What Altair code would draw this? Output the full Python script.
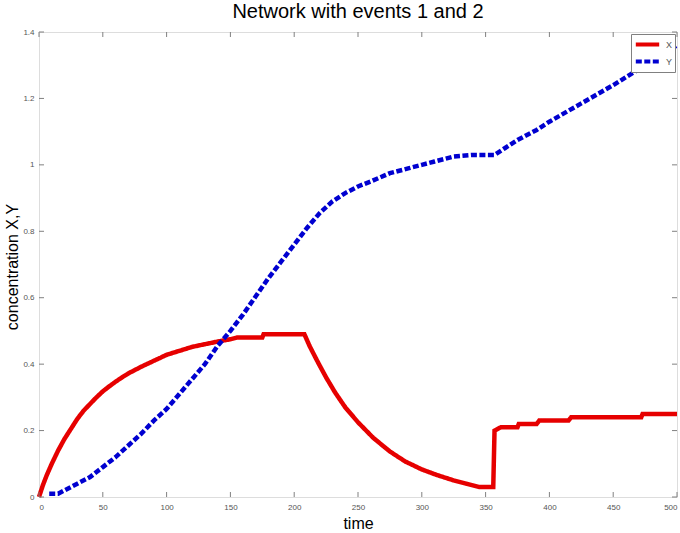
import altair as alt
import pandas as pd

# ---- data ----
t_x = [0, 3, 6, 10, 15, 20, 25, 30, 35, 40, 45, 50, 55, 60, 65, 70, 80, 90, 100, 110,
       120, 130, 140, 150, 155, 175, 176, 208, 212, 218, 225, 232, 240, 250, 262,
       275, 287, 300, 312, 325, 335, 345, 356, 357, 362, 375, 376, 390, 392, 415,
       417, 472, 473, 500]
x_vals = [0, 0.035, 0.065, 0.1, 0.14, 0.175, 0.205, 0.235, 0.26, 0.28, 0.3, 0.318,
          0.333, 0.347, 0.36, 0.372, 0.392, 0.41, 0.428, 0.44, 0.452, 0.46, 0.468,
          0.475, 0.48, 0.48, 0.49, 0.49, 0.455, 0.41, 0.36, 0.315, 0.27, 0.225, 0.178,
          0.137, 0.107, 0.083, 0.066, 0.05, 0.04, 0.03, 0.03, 0.2, 0.21, 0.21, 0.22,
          0.22, 0.23, 0.23, 0.24, 0.24, 0.25, 0.25]

t_y = [8, 15, 20, 30, 40, 50, 60, 70, 80, 90, 100, 110, 120, 130, 140, 150, 160, 170,
       180, 190, 200, 210, 220, 230, 240, 250, 260, 275, 290, 300, 310, 325, 340, 357,
       365, 375, 390, 400, 425, 450, 475, 500]
y_vals = [0.01, 0.01, 0.02, 0.04, 0.06, 0.09, 0.12, 0.155, 0.19, 0.23, 0.265, 0.31,
          0.355, 0.4, 0.455, 0.5, 0.55, 0.605, 0.66, 0.71, 0.76, 0.81, 0.855, 0.89,
          0.915, 0.935, 0.95, 0.975, 0.99, 1.0, 1.01, 1.025, 1.03, 1.03, 1.05, 1.075,
          1.105, 1.13, 1.185, 1.24, 1.3, 1.36]

series_names = ["X", "Y"]
x_ticks = [0, 50, 100, 150, 200, 250, 300, 350, 400, 450, 500]
y_ticks = [0, 0.2, 0.4, 0.6, 0.8, 1.0, 1.2, 1.4]

df = pd.concat([
    pd.DataFrame({"time": t_x, "value": x_vals, "series": series_names[0]}),
    pd.DataFrame({"time": t_y, "value": y_vals, "series": series_names[1]}),
], ignore_index=True)

W, H = 638, 465
FONT = "Liberation Sans"
GRAY = "#808080"
LBL = "#555555"

xs = alt.Scale(domain=[0, 500], nice=False, zero=False)
ys = alt.Scale(domain=[0, 1.4], nice=False, zero=False)

leg = alt.Legend(
    title=None, orient="top-right", offset=2, fillColor="white", strokeColor=GRAY,
    padding=2, labelFontSize=9, labelColor=LBL, labelFont=FONT,
    symbolType="M-1.8,0H1.8", symbolSize=169, symbolStrokeWidth=4,
    symbolFillColor="transparent", rowPadding=0, labelOffset=10, symbolOffset=6,
)

lines = alt.Chart(df).mark_line(strokeWidth=4.5).encode(
    x=alt.X("time:Q", scale=xs, axis=alt.Axis(
        values=x_ticks, title="time", tickSize=0, labelPadding=6, domain=False,
        grid=False, labelFontSize=8, labelColor=LBL, titleFontSize=16,
        titleFontWeight="normal", titleFont=FONT, titleColor="black", titlePadding=4,
        labelFont=FONT)),
    y=alt.Y("value:Q", scale=ys, axis=alt.Axis(
        values=y_ticks, title="concentration X,Y", tickSize=0, labelPadding=5,
        domain=False, grid=False, labelFontSize=8, labelColor=LBL, format="~g",
        titleFontSize=16, titleFontWeight="normal", titleFont=FONT,
        titleColor="black", titleX=-22, titleY=H / 2 + 2, titleAngle=270,
        titleAlign="center", titleBaseline="alphabetic", labelFont=FONT)),
    color=alt.Color("series:N", scale=alt.Scale(domain=series_names,
                    range=["#e60000", "#0000d0"]), legend=leg),
    strokeDash=alt.StrokeDash("series:N", scale=alt.Scale(domain=series_names,
                              range=[[1, 0], [6, 2.5]]), legend=leg),
    order="time:Q",
)

xt = pd.DataFrame({"time": x_ticks})
yt = pd.DataFrame({"value": y_ticks})

tick_style = dict(color=GRAY, strokeWidth=1)
bottom = alt.Chart(xt).mark_rule(**tick_style).encode(
    x=alt.X("time:Q", scale=xs), y=alt.value(H), y2=alt.value(H - 5))
top = alt.Chart(xt).mark_rule(**tick_style).encode(
    x=alt.X("time:Q", scale=xs), y=alt.value(0), y2=alt.value(5))
left = alt.Chart(yt).mark_rule(**tick_style).encode(
    y=alt.Y("value:Q", scale=ys), x=alt.value(0), x2=alt.value(5))
right = alt.Chart(yt).mark_rule(**tick_style).encode(
    y=alt.Y("value:Q", scale=ys), x=alt.value(W), x2=alt.value(W - 5))

chart = alt.layer(lines, bottom, top, left, right).properties(
    width=W, height=H,
    title=alt.Title("Network with events 1 and 2", fontSize=20, font=FONT,
                    fontWeight="normal", color="black", offset=6, anchor="middle"),
    autosize=alt.AutoSizeParams(type="none"),
    padding={"left": 39, "top": 32, "right": 3, "bottom": 36},
).configure_view(stroke=GRAY, strokeWidth=1).configure(background="white")

chart.save("out.html", embed_options={"renderer": "svg", "actions": False})
